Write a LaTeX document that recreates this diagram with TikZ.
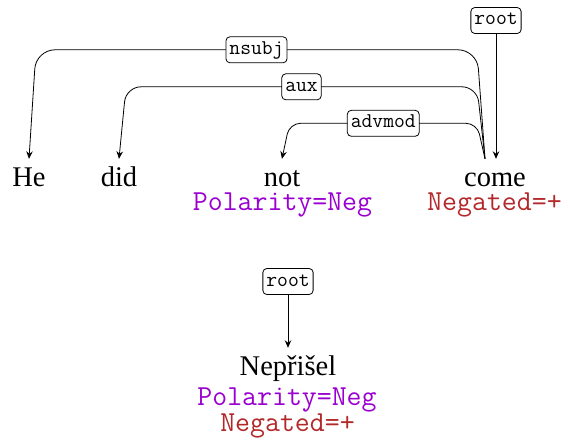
\documentclass[tikz,border=0pt]{standalone}
\usepackage{fontspec}
\setmainfont{Liberation Serif}
\usetikzlibrary{arrows.meta,calc}
\definecolor{featpurple}{HTML}{9A00D0}
\definecolor{featred}{HTML}{B3282A}
\begin{document}
\begin{tikzpicture}[x=1pt,y=-1pt,
  word/.style={font=\fontsize{28.5}{30}\selectfont, anchor=base,
    inner sep=0pt, text height=27pt, text depth=0pt},
  feat/.style={font=\fontsize{29}{30}\selectfont\ttfamily, anchor=base,
    inner sep=0pt, text height=17pt, text depth=4pt},
  rel/.style={draw, line width=0.8pt, rounded corners=4pt, fill=white,
    font=\fontsize{21}{22}\selectfont\ttfamily, inner xsep=3.5pt,
    inner ysep=4.5pt, text height=13pt, text depth=4pt},
  dep/.style={line width=0.8pt,
    -{Stealth[length=7.5pt,width=6.5pt,inset=2.5pt]}}]
  \useasboundingbox (0,0) rectangle (570,441);

  % sentence: He did not come
  \node[word] (he)   at (29,186)  {He};
  \node[word] (did)  at (119,186) {did};
  \node[word] (not)  at (282,186) {not};
  \node[word] (come) at (495,186) {come};
  \node[feat, text=featpurple] (notf)  at (282.5,210.5) {Polarity=Neg};
  \node[feat, text=featred]    (comef) at (494.5,210.5) {Negated=+};

  % outgoing edges leave "come" slightly left of its centre
  \coordinate (cs) at ($(come.north)+(-10,0)$);

  \draw[dep, rounded corners=19pt] (cs) -- ++(-8,-109)
    -- node[rel] {nsubj} ($(he.north)+(7,-109)$) -- (he.north);
  \draw[dep, rounded corners=15pt] (cs) -- ++(-8,-72)
    -- node[rel] {aux} ($(did.north)+(7,-72)$) -- (did.north);
  \draw[dep, rounded corners=11pt] (cs) -- ++(-8,-35.5)
    -- node[rel] {advmod} ($(not.north)+(7.5,-35.5)$) -- (not.north);

  \node[rel] (root1) at (496,20.5) {root};
  \draw[dep] (root1) -- (root1 |- come.north);

  % single word: Nepřišel
  \node[word] (nep) at (288,375) {Nepřišel};
  \node[feat, text=featpurple] (nepf1) at (287,405)   {Polarity=Neg};
  \node[feat, text=featred]    (nepf2) at (287.5,431.5) {Negated=+};

  \node[rel] (root2) at (288,281.5) {root};
  \draw[dep] (root2) -- (root2 |- nep.north);
\end{tikzpicture}
\end{document}
